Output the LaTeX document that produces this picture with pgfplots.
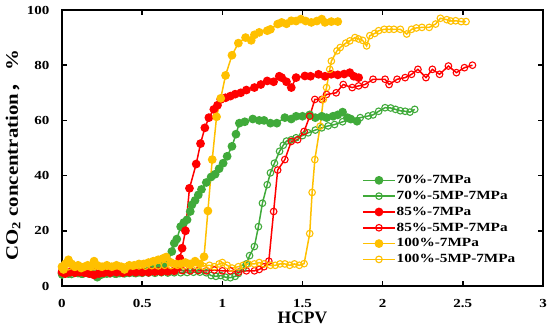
\documentclass[border=0pt]{standalone}
\usepackage{pgfplots}
\pgfplotsset{compat=1.18}
\usepackage{fontspec}
\setmainfont{Liberation Serif}
\newfontfamily\widefont{Liberation Serif}[FakeStretch=1.22, UprightFont={* Bold}]
\newfontfamily\labfont{Liberation Serif}[FakeStretch=1.19, UprightFont={* Bold}]
\newfontfamily\cjk{Noto Sans CJK SC}[FakeStretch=1.19, UprightFont={* Bold}]
\definecolor{cg}{RGB}{64,170,58}
\definecolor{cr}{RGB}{255,0,0}
\definecolor{cy}{RGB}{255,192,0}
\begin{document}
\begin{tikzpicture}
\begin{axis}[name=ax,
  scale only axis, width=481pt, height=276pt,
  xmin=0, xmax=3, ymin=0, ymax=100,
  xtick={0,0.5,1,1.5,2,2.5,3}, ytick={0,20,40,60,80,100},
  xticklabels={0,0.5,1,1.5,2,2.5,3},
  tick align=inside, major tick length=5pt,
  tick style={line width=1.6pt, black},
  axis line style={line width=2.4pt},
  ticklabel style={font=\fontsize{12.3}{14}\widefont},
  xticklabel style={yshift=-10pt},
  yticklabel style={xshift=-9pt},
  /pgf/number format/assume math mode=true,
  xlabel={\textbf{HCPV}},
  ylabel={\labfont CO\textsubscript{2} concentration{\cjk ，}\,\%},
  xlabel style={font=\fontsize{17.5}{19}\selectfont\bfseries, at={(axis description cs:0.5,0)}, anchor=base, yshift=-37pt},
  ylabel style={font=\fontsize{17.5}{19}\selectfont, at={(axis description cs:0,0.5)}, anchor=center, yshift=49pt, xshift=-7pt},
  legend style={draw=none, fill=none, at={(0.6237,0.405)}, anchor=north west,
    font=\fontsize{12.5}{13}\widefont, row sep=4pt,
    inner sep=0pt, nodes={inner sep=1pt}},
  legend cell align=left,
  legend image code/.code={\draw[mark repeat=2,mark phase=2] plot coordinates {(0pt,0pt)(16pt,0pt)(32pt,0pt)};},
  every axis plot/.append style={line width=1.5pt},
]
\addplot[cg, mark=*, mark size=3.6pt, mark options={fill=cg}] coordinates {
(0,4.5)(0.02,5)(0.04,4.5)(0.06,5)(0.08,4.8)(0.1,5)(0.12,4.5)(0.14,5)(0.16,4.8)(0.18,4.5)(0.2,4.2)(0.22,3.2)(0.24,4)(0.26,4.5)(0.28,4.5)(0.3,4.6)(0.33,4.5)(0.36,4.7)(0.39,4.6)(0.42,4.8)(0.45,4.8)(0.48,5)(0.51,5.2)(0.54,5.5)(0.57,6)(0.6,6.5)(0.63,7.5)(0.66,9)(0.685,12.5)(0.70,15.5)(0.716,17)(0.74,21.5)(0.76,23)(0.78,24)(0.80,27)(0.81,29.4)(0.83,31)(0.85,33)(0.87,35)(0.90,37.5)(0.93,39.5)(0.955,40.5)(0.98,42.5)(1.005,44.5)(1.03,47)(1.06,50.6)(1.085,55)(1.106,59)(1.14,59.5)(1.19,60.5)(1.23,60)(1.26,60)(1.30,59)(1.34,59)(1.39,61)(1.43,60.5)(1.46,61.5)(1.50,61.5)(1.545,62)(1.58,61)(1.62,61.5)(1.65,61)(1.69,61.5)(1.72,62)(1.75,63)(1.78,61)(1.80,60.5)(1.84,59.7)};
\addlegendentry{70\%-7MPa}
\addplot[cg, mark=o, mark size=3.3pt, mark options={line width=1.1pt}] coordinates {
(0,4)(0.03,4.5)(0.06,4.2)(0.1,4.5)(0.13,4.3)(0.16,4.5)(0.2,4.4)(0.23,4.2)(0.26,4.5)(0.3,4.5)(0.34,4.3)(0.38,4.5)(0.42,4.6)(0.46,4.5)(0.5,4.6)(0.54,4.7)(0.58,4.6)(0.62,4.8)(0.66,4.7)(0.7,4.8)(0.74,4.8)(0.78,4.9)(0.82,5)(0.86,5)(0.9,4.8)(0.93,3.8)(0.96,3.5)(0.99,3.8)(1.02,3.2)(1.05,3)(1.08,3.5)(1.1,4.5)(1.13,6.5)(1.15,8)(1.17,11)(1.2,14.3)(1.225,21.5)(1.25,30)(1.28,36.7)(1.3,41)(1.325,44.5)(1.357,48.8)(1.38,51)(1.40,52.5)(1.43,53)(1.46,53.7)(1.50,54.5)(1.535,55.5)(1.58,56.5)(1.62,57.3)(1.66,58)(1.70,58.5)(1.75,59.5)(1.805,60.4)(1.86,61)(1.91,61.6)(1.94,62)(1.975,63.3)(2.015,64.6)(2.05,64.5)(2.08,64)(2.11,63.5)(2.14,63.3)(2.17,63)(2.20,64)};
\addlegendentry{70\%-5MP-7MPa}
\addplot[cr, mark=*, mark size=3.6pt, mark options={fill=cr}] coordinates {
(0,5)(0.02,4.5)(0.05,5)(0.08,4.8)(0.11,5)(0.14,4.8)(0.17,4.5)(0.2,4)(0.23,4.5)(0.26,4.8)(0.3,4.8)(0.34,5)(0.38,4.8)(0.42,5)(0.46,5)(0.5,5)(0.54,5)(0.58,5.2)(0.62,5.2)(0.66,5.3)(0.70,5.5)(0.725,7)(0.735,10)(0.749,13.7)(0.77,20)(0.795,35.4)(0.837,44.2)(0.864,51.6)(0.891,57.3)(0.916,61)(0.947,64)(0.97,65.5)(0.99,67.6)(1.02,68.2)(1.05,68.8)(1.08,69.5)(1.115,70)(1.15,71)(1.2,71.9)(1.24,73)(1.28,74.3)(1.32,74)(1.355,76)(1.37,75.5)(1.40,74)(1.43,71.9)(1.46,75.5)(1.515,76.1)(1.55,76)(1.60,76.7)(1.64,76)(1.68,76.7)(1.72,76.5)(1.76,76.8)(1.795,77.3)(1.82,76)(1.85,75.5)};
\addlegendentry{85\%-7MPa}
\addplot[cr, mark=o, mark size=3.3pt, mark options={line width=1.1pt}] coordinates {
(0,5.5)(0.05,5)(0.1,5.3)(0.15,5)(0.2,5.2)(0.25,5)(0.3,5.2)(0.35,5.3)(0.4,5.2)(0.45,5.4)(0.5,5.3)(0.55,5.5)(0.6,5.4)(0.65,5.5)(0.7,5.5)(0.75,5.6)(0.8,5.5)(0.85,5.6)(0.9,5.5)(0.95,5.8)(1.0,5.5)(1.05,5.5)(1.1,5)(1.15,5.5)(1.2,5.5)(1.23,6)(1.26,7)(1.29,9)(1.32,27)(1.345,42)(1.39,45.8)(1.43,52.4)(1.47,53)(1.51,56)(1.545,61.5)(1.577,67.6)(1.62,67.6)(1.65,69.4)(1.71,70)(1.754,73)(1.81,71.9)(1.85,72.5)(1.89,73)(1.94,74.9)(2.015,74.9)(2.04,73)(2.09,74.9)(2.14,75.5)(2.18,76.7)(2.22,78.5)(2.27,75.5)(2.31,78.5)(2.355,76.7)(2.41,79.7)(2.46,77.3)(2.51,79.1)(2.56,80)};
\addlegendentry{85\%-5MP-7MPa}
\addplot[cy, mark=*, mark size=3.6pt, mark options={fill=cy}] coordinates {
(0,7)(0.01,6)(0.02,8)(0.04,9.5)(0.06,8)(0.08,7)(0.1,7.5)(0.12,6.5)(0.14,7)(0.16,7.5)(0.18,7)(0.2,9)(0.22,7.5)(0.25,7)(0.28,7.5)(0.31,7)(0.34,7.5)(0.37,7)(0.39,6)(0.42,7.5)(0.45,7.5)(0.48,8)(0.51,8)(0.54,8.5)(0.57,9)(0.6,9.5)(0.63,10)(0.65,10.5)(0.68,8.5)(0.71,8)(0.74,8)(0.77,8.5)(0.80,8)(0.83,9)(0.86,8)(0.886,10.6)(0.91,27.2)(0.937,45.8)(0.964,61.3)(0.99,68)(1.02,76.3)(1.06,83.6)(1.10,88)(1.145,90)(1.18,89)(1.2,91)(1.23,91.9)(1.28,92.5)(1.30,93)(1.345,94.9)(1.37,95.5)(1.40,95)(1.43,96.1)(1.46,96)(1.49,96.7)(1.52,96)(1.555,95.5)(1.59,96)(1.62,96.7)(1.64,95.5)(1.68,95.8)(1.72,95.8)};
\addlegendentry{100\%-7MPa}
\addplot[cy, mark=o, mark size=3.3pt, mark options={line width=1.1pt}] coordinates {
(0,6.5)(0.04,7)(0.08,6.8)(0.12,7)(0.16,7.2)(0.2,7)(0.24,7)(0.28,7.2)(0.32,7)(0.36,7.1)(0.4,7)(0.44,7.2)(0.48,7.3)(0.52,7.2)(0.56,7.4)(0.6,7.3)(0.64,7.5)(0.68,7.4)(0.72,7.5)(0.76,7.3)(0.8,7.5)(0.84,7.4)(0.88,7.2)(0.92,7.5)(0.95,7)(0.98,8)(1.0,8.5)(1.03,7.5)(1.06,6.5)(1.1,7)(1.13,7.5)(1.16,8)(1.2,8)(1.23,8.5)(1.26,8)(1.3,7.5)(1.33,7.5)(1.36,8)(1.39,8)(1.42,7.5)(1.45,8)(1.48,7.5)(1.51,8.1)(1.545,19)(1.56,33.9)(1.577,45.8)(1.61,57.9)(1.63,67.6)(1.65,71.9)(1.67,78.5)(1.68,81.5)(1.715,85.2)(1.735,86.4)(1.77,88)(1.795,88.8)(1.827,90)(1.85,89.5)(1.875,89)(1.90,87)(1.92,90.7)(1.95,91.5)(1.975,92.5)(2.01,93)(2.04,93)(2.07,93)(2.11,93)(2.15,91.3)(2.18,93)(2.21,93.5)(2.245,93.7)(2.29,93.7)(2.33,94.9)(2.36,97)(2.40,96.5)(2.425,96)(2.455,96.1)(2.49,95.8)(2.52,95.8)};
\addlegendentry{100\%-5MP-7MPa}
\end{axis}
\pgfresetboundingbox
\path[use as bounding box] ([shift={(-62pt,-43pt)}]ax.south west) rectangle ([shift={(7pt,10pt)}]ax.north east);
\end{tikzpicture}
\end{document}
